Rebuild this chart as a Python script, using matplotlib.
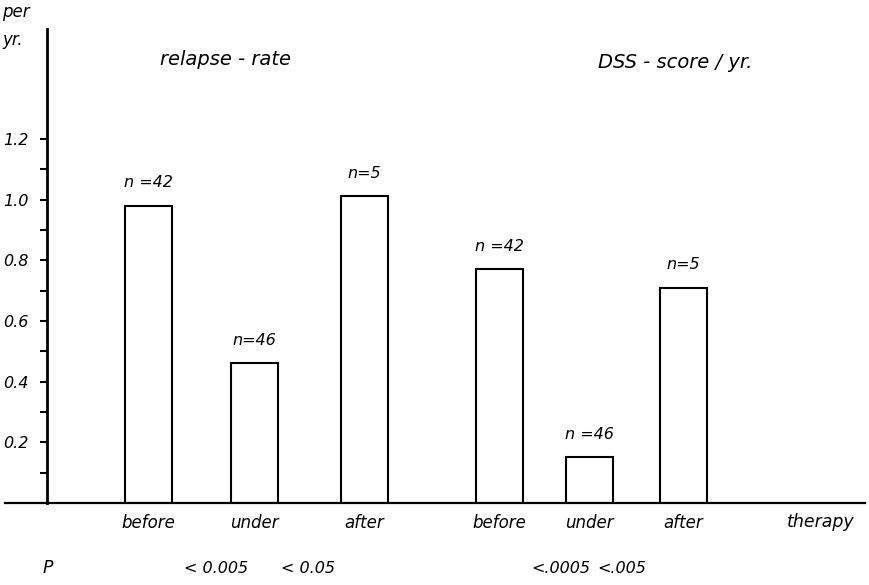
import numpy as np
import matplotlib.pyplot as plt

# Datos
periodos = ['before', 'under', 'after', 'before', 'under', 'after']
valores = [0.98, 0.46, 1.01, 0.77, 0.15, 0.71]
n_pacientes = ['n =42', 'n=46', 'n=5', 'n =42', 'n =46', 'n=5']
p_valores = ['< 0.005', '< 0.05', '<.0005', '<.005']

# Posiciones de las barras (en pixeles desde el eje y)
pos_barras = [101, 207.5, 317, 452, 542.5, 636]
pos_p = [169, 261, 514, 575]
ancho = 47

fuente = dict(family='DejaVu Sans', style='italic', color='black')

fig = plt.figure(figsize=(8.69, 5.85), dpi=100)
ax = fig.add_axes([47 / 869, 82 / 585, 822 / 869, 474 / 585])

ax.bar(pos_barras, valores, width=ancho, facecolor='white', edgecolor='black', linewidth=1.5)

ax.set_xlim(0, 822)
ax.set_ylim(0, 474 / 303.5)

for x, v, n in zip(pos_barras, valores, n_pacientes):
    ax.annotate(n, (x, v), xytext=(0, 11), textcoords='offset points', ha='center', va='bottom', fontsize=11.5, **fuente)

for s in ['top', 'right', 'bottom']:
    ax.spines[s].set_visible(False)
ax.spines['left'].set_linewidth(2)
ax.plot([-42, 818], [0, 0], color='black', linewidth=1.6, clip_on=False)

ax.set_yticks([0.2, 0.4, 0.6, 0.8, 1.0, 1.2])
ax.set_yticklabels(['0.2', '0.4', '0.6', '0.8', '1.0', '1.2'], fontsize=11.5, **fuente)
ax.set_yticks([0.1, 0.3, 0.5, 0.7, 0.9, 1.1], minor=True)
ax.tick_params(axis='y', which='both', length=5, width=1.5, pad=8)
ax.set_xticks(pos_barras)
ax.set_xticklabels(periodos, fontsize=12, **fuente)
ax.tick_params(axis='x', length=0, pad=8)

ax.text(774, -0.063, 'therapy', ha='center', va='center', fontsize=12.5, **fuente)

# fila de P
fig.text(48 / 869, 1 - 568 / 585, 'P', ha='center', va='center', fontsize=12.5, **fuente)
for x, p in zip(pos_p, p_valores):
    ax.text(x, -0.215, p, ha='center', va='center', fontsize=11.5, **fuente)

# titulos
ax.text(178, 1.46, 'relapse - rate', ha='center', va='center', fontsize=14, **fuente)
ax.text(628, 1.45, 'DSS - score / yr.', ha='center', va='center', fontsize=14, **fuente)

# etiqueta del eje y
fig.text(2 / 869, 1 - 12 / 585, 'per', ha='left', va='center', fontsize=12, **fuente)
fig.text(2 / 869, 1 - 40 / 585, 'yr.', ha='left', va='center', fontsize=12, **fuente)

plt.savefig('out.png', dpi=100)
